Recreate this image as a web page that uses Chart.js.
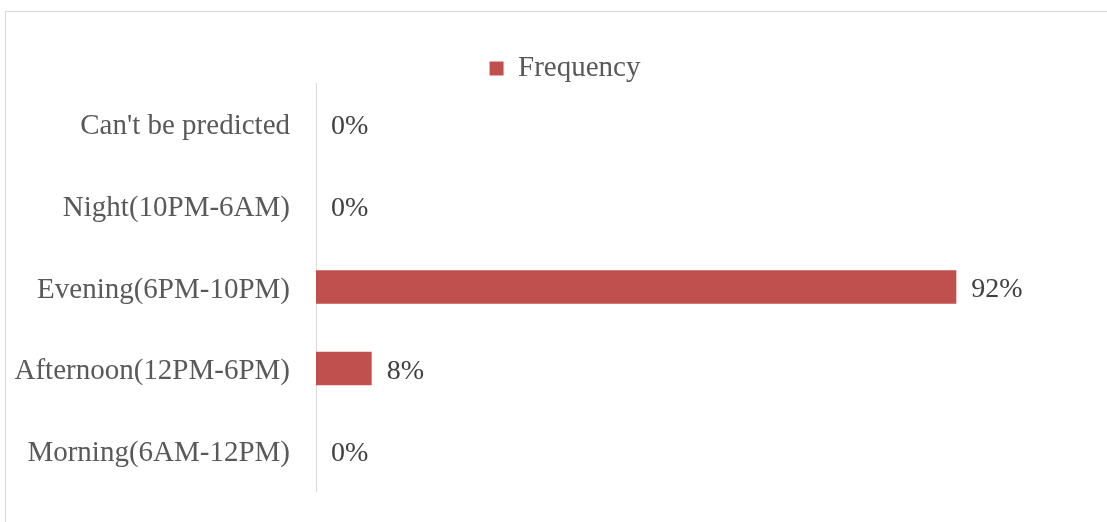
<!DOCTYPE html>
<html>
<head>
<meta charset="utf-8">
<script src="https://cdn.jsdelivr.net/npm/chart.js@4"></script>
<style>
  html, body { margin: 0; padding: 0; background: #fff; }
  #frame { position: absolute; left: 5px; top: 11px; width: 1110px; height: 530px;
           border-top: 1px solid #d9d9d9; border-left: 1px solid #d9d9d9; }
  #wrap { position: absolute; left: 0; top: 0; width: 1107px; height: 522px; }
</style>
</head>
<body>
<div id="frame"></div>
<div id="wrap"><canvas id="TimeChartjs"></canvas></div>
<script>
const timeLabels = [
    "Can't be predicted",
    'Night(10PM-6AM)',
    'Evening(6PM-10PM)',
    'Afternoon(12PM-6PM)',
    'Morning(6AM-12PM)'
];
const frequencyValues = [0, 0, 92, 8, 0];
const barColor = '#C0504D';
const serif = '"Liberation Serif", "Times New Roman", serif';

// writes "n%" just past the end of each bar
const valueLabels = {
    id: 'valueLabels',
    afterDatasetsDraw(chart) {
        const ctx = chart.ctx;
        const meta = chart.getDatasetMeta(0);
        ctx.save();
        ctx.font = '28px ' + serif;
        ctx.fillStyle = '#404040';
        ctx.textAlign = 'left';
        ctx.textBaseline = 'middle';
        meta.data.forEach(function (bar, i) {
            ctx.fillText(frequencyValues[i] + '%', bar.x + 15, bar.y + 3);
        });
        ctx.restore();
    }
};

// centre the legend over the frame rather than over the padded area,
// and let it sit a little lower, close to the plot
const legendShift = {
    id: 'legendShift',
    afterLayout(chart) {
        chart.legend.left += 54;
        chart.legend.right += 54;
        chart.legend.top += 10;
        chart.legend.bottom += 10;
    }
};

const TimeChart = document.getElementById('TimeChartjs').getContext('2d');
new Chart(TimeChart, {
    type: 'bar',
    data: {
        labels: timeLabels,
        datasets: [{
            label: 'Frequency',
            data: frequencyValues,
            backgroundColor: barColor,
            borderWidth: 0,
            barPercentage: 0.41,
            categoryPercentage: 1
        }]
    },
    options: {
        indexAxis: 'y',
        responsive: true,
        maintainAspectRatio: false,
        animation: false,
        layout: { padding: { top: 43, bottom: 31, left: 10, right: 95 } },
        plugins: {
            legend: {
                labels: {
                    boxWidth: 14,
                    boxHeight: 14,
                    padding: 1,
                    color: '#595959',
                    font: { family: serif, size: 29 }
                }
            },
            tooltip: { enabled: false }
        },
        scales: {
            x: { display: false, min: 0, max: 100 },
            y: {
                afterFit(scale) {
                    scale.width = 306;
                    scale.paddingTop = 0;
                    scale.paddingBottom = 0;
                },
                grid: { display: false, drawTicks: false },
                border: { display: true, color: '#d9d9d9', width: 1 },
                ticks: {
                    padding: 26,
                    labelOffset: 3,
                    color: '#595959',
                    font: { family: serif, size: 29 }
                }
            }
        }
    },
    plugins: [valueLabels, legendShift]
});
</script>
</body>
</html>
